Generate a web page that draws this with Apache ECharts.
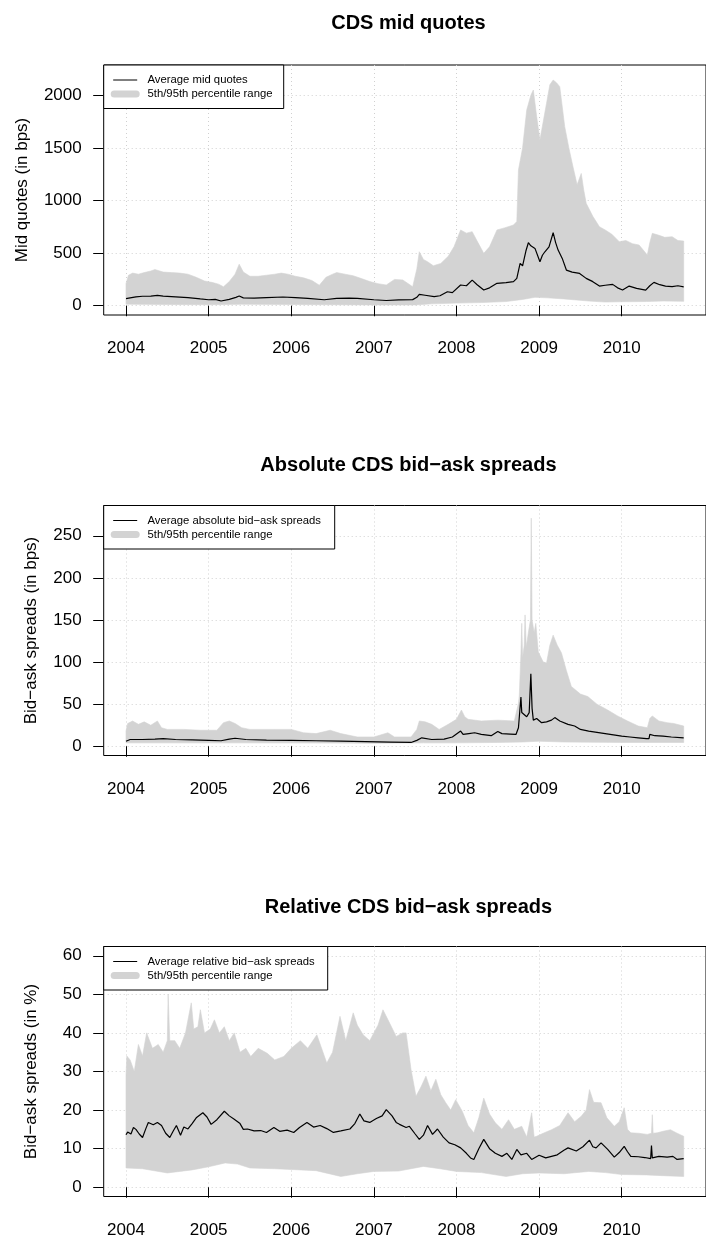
<!DOCTYPE html>
<html>
<head>
<meta charset="utf-8">
<script src="https://cdn.jsdelivr.net/npm/echarts@6/dist/echarts.min.js"></script>
<style>
  html, body { margin: 0; padding: 0; background: #ffffff; }
  #chart { width: 706px; height: 1239px; }
</style>
</head>
<body>
<div id="chart"></div>
<script>
// Tick positions shared by the three panels
const yearTicks = [2004, 2005, 2006, 2007, 2008, 2009, 2010];
const midTicks = [0, 500, 1000, 1500, 2000];
const absTicks = [0, 50, 100, 150, 200, 250];
const relTicks = [0, 10, 20, 30, 40, 50, 60];

// CDS mid quotes (bps): [year, value]
const midUpper = [[2004.00,210],[2004.03,290],[2004.08,310],[2004.15,300],[2004.22,315],[2004.30,330],[2004.35,344],[2004.45,320],[2004.55,315],[2004.65,310],[2004.75,300],[2004.85,270],[2004.95,235],[2005.05,220],[2005.12,205],[2005.18,180],[2005.25,230],[2005.32,300],[2005.37,395],[2005.42,320],[2005.50,280],[2005.60,280],[2005.70,290],[2005.80,300],[2005.88,310],[2005.96,300],[2006.05,280],[2006.15,265],[2006.25,240],[2006.34,195],[2006.42,270],[2006.50,300],[2006.55,315],[2006.65,300],[2006.75,285],[2006.85,258],[2006.95,230],[2007.05,210],[2007.15,197],[2007.25,250],[2007.35,245],[2007.47,181],[2007.52,350],[2007.55,513],[2007.60,440],[2007.65,418],[2007.72,380],[2007.81,402],[2007.90,470],[2007.97,561],[2008.05,720],[2008.12,690],[2008.19,704],[2008.26,600],[2008.33,498],[2008.40,560],[2008.49,720],[2008.58,740],[2008.69,767],[2008.73,800],[2008.75,1290],[2008.80,1500],[2008.85,1860],[2008.90,2000],[2008.93,2050],[2008.97,1800],[2009.01,1575],[2009.05,1750],[2009.09,1924],[2009.13,2100],[2009.17,2145],[2009.21,2120],[2009.25,2082],[2009.31,1702],[2009.36,1500],[2009.41,1321],[2009.46,1150],[2009.51,1257],[2009.54,1100],[2009.57,973],[2009.65,850],[2009.73,751],[2009.80,720],[2009.88,680],[2009.97,609],[2010.05,620],[2010.13,590],[2010.21,577],[2010.27,520],[2010.31,482],[2010.34,600],[2010.37,688],[2010.45,670],[2010.52,650],[2010.61,656],[2010.68,620],[2010.75,615]];
const midLower = [[2004.00,15],[2004.50,12],[2005.00,10],[2005.40,14],[2006.00,12],[2006.50,10],[2007.00,8],[2007.50,8],[2007.70,18],[2008.00,25],[2008.30,30],[2008.60,40],[2008.80,60],[2008.95,80],[2009.10,75],[2009.30,65],[2009.60,45],[2009.80,35],[2010.00,38],[2010.30,40],[2010.50,45],[2010.75,42]];
const midMean = [[2004.00,67],[2004.05,75],[2004.12,85],[2004.20,90],[2004.30,92],[2004.38,99],[2004.45,92],[2004.60,85],[2004.75,78],[2004.90,65],[2005.00,57],[2005.08,60],[2005.15,45],[2005.25,60],[2005.33,80],[2005.37,92],[2005.42,75],[2005.55,73],[2005.70,78],[2005.90,83],[2006.05,78],[2006.20,70],[2006.40,57],[2006.55,70],[2006.70,73],[2006.80,70],[2007.00,57],[2007.15,50],[2007.30,55],[2007.47,58],[2007.52,80],[2007.55,108],[2007.62,100],[2007.73,86],[2007.80,95],[2007.89,133],[2007.95,125],[2008.05,197],[2008.12,190],[2008.19,244],[2008.25,200],[2008.33,149],[2008.40,170],[2008.49,213],[2008.60,220],[2008.69,229],[2008.73,260],[2008.77,403],[2008.80,380],[2008.84,520],[2008.87,599],[2008.90,570],[2008.95,545],[2009.01,418],[2009.04,480],[2009.07,513],[2009.12,560],[2009.17,694],[2009.20,600],[2009.23,529],[2009.28,450],[2009.33,339],[2009.40,320],[2009.49,307],[2009.57,260],[2009.65,229],[2009.73,187],[2009.80,195],[2009.89,203],[2009.95,170],[2010.01,149],[2010.09,187],[2010.18,165],[2010.29,149],[2010.34,190],[2010.39,222],[2010.46,200],[2010.53,187],[2010.61,181],[2010.68,190],[2010.75,180]];

// Absolute bid-ask spreads (bps)
const absUpper = [[2004.00,18],[2004.02,27],[2004.08,30],[2004.15,26],[2004.22,29],[2004.30,25],[2004.38,30],[2004.43,22],[2004.50,20],[2004.70,20],[2004.90,19],[2005.10,19],[2005.18,28],[2005.25,30],[2005.32,27],[2005.40,22],[2005.50,20],[2005.80,20],[2006.00,20],[2006.15,16],[2006.30,15],[2006.47,19],[2006.60,15],[2006.80,11],[2007.00,11],[2007.17,16],[2007.25,11],[2007.45,11],[2007.52,20],[2007.55,30],[2007.62,29],[2007.70,26],[2007.79,20],[2007.90,26],[2008.00,32],[2008.06,43],[2008.10,35],[2008.14,32],[2008.30,30],[2008.50,31],[2008.70,30],[2008.75,51],[2008.76,60],[2008.78,110],[2008.79,146],[2008.80,105],[2008.82,120],[2008.83,156],[2008.845,118],[2008.87,135],[2008.895,150],[2008.905,271],[2008.915,150],[2008.94,135],[2008.96,146],[2008.99,112],[2009.05,100],[2009.09,99],[2009.13,120],[2009.17,132],[2009.22,120],[2009.27,111],[2009.33,90],[2009.39,71],[2009.50,62],[2009.59,59],[2009.70,50],[2009.83,43],[2009.95,36],[2010.07,30],[2010.20,24],[2010.31,22],[2010.34,33],[2010.37,36],[2010.45,30],[2010.55,28],[2010.63,27],[2010.75,24]];
const absLower = [[2004.00,4],[2005.00,4],[2006.00,4],[2007.00,3.5],[2007.60,4],[2008.00,4],[2008.50,4.5],[2008.80,5],[2009.00,6],[2009.30,5],[2010.00,4.5],[2010.75,4.5]];
const absMean = [[2004.00,6],[2004.05,8],[2004.20,8],[2004.35,8.5],[2004.45,9],[2004.60,8],[2004.80,7.5],[2005.00,7],[2005.15,6.5],[2005.25,8.5],[2005.32,9.5],[2005.45,8],[2005.70,7.2],[2006.00,7],[2006.30,6.5],[2006.60,6],[2006.90,5.5],[2007.20,5],[2007.45,4.5],[2007.52,7],[2007.58,10],[2007.70,8],[2007.85,8.5],[2007.95,11],[2008.05,18],[2008.08,14],[2008.15,15],[2008.22,16],[2008.30,14],[2008.42,12.5],[2008.50,17.5],[2008.55,15],[2008.65,14.5],[2008.72,14],[2008.75,22],[2008.78,58.5],[2008.79,40],[2008.81,41],[2008.85,35],[2008.88,40],[2008.90,86],[2008.915,45],[2008.93,31],[2008.97,33],[2009.03,28],[2009.09,29],[2009.15,31],[2009.19,34],[2009.25,30],[2009.35,26],[2009.43,24],[2009.50,20],[2009.60,18],[2009.70,16.5],[2009.80,15],[2009.90,13.5],[2010.00,12],[2010.10,11],[2010.20,10],[2010.30,9],[2010.33,9],[2010.34,14],[2010.40,12.5],[2010.50,12],[2010.60,11],[2010.75,10]];

// Relative bid-ask spreads (%)
const relUpper = [[2004.00,29],[2004.01,34],[2004.05,33],[2004.10,30],[2004.15,37],[2004.20,34],[2004.25,40],[2004.32,36],[2004.39,37],[2004.45,35],[2004.50,38],[2004.51,50],[2004.53,38],[2004.59,38],[2004.65,36],[2004.72,40],[2004.79,47.8],[2004.82,41],[2004.87,41.6],[2004.90,46],[2004.95,40],[2005.02,41],[2005.07,43.4],[2005.13,40],[2005.19,41.6],[2005.25,38],[2005.31,40],[2005.38,35],[2005.45,36],[2005.51,33.9],[2005.60,36],[2005.71,34.7],[2005.80,33],[2005.91,33.9],[2006.00,36],[2006.11,38],[2006.20,36],[2006.31,39.5],[2006.43,32.2],[2006.50,35],[2006.59,44.3],[2006.66,38],[2006.75,45.2],[2006.80,42],[2006.87,39.5],[2006.95,38],[2007.05,42],[2007.11,46],[2007.18,43],[2007.27,39.1],[2007.35,40],[2007.39,40],[2007.45,30.5],[2007.51,23.6],[2007.57,26],[2007.63,28.8],[2007.69,25],[2007.75,28],[2007.81,24],[2007.87,21.9],[2007.93,20],[2007.99,22.7],[2008.07,19.7],[2008.14,16],[2008.21,14.1],[2008.27,18],[2008.33,23.1],[2008.40,19],[2008.47,16.7],[2008.55,15],[2008.63,17.5],[2008.70,15],[2008.79,15.8],[2008.85,13],[2008.91,19.3],[2008.94,13],[2008.97,13.2],[2009.05,14],[2009.15,14.9],[2009.25,16],[2009.35,19.3],[2009.43,17],[2009.51,18.4],[2009.57,20],[2009.61,25.3],[2009.66,22],[2009.75,21.9],[2009.82,18],[2009.91,15.8],[2009.97,17],[2010.03,20.6],[2010.07,15],[2010.11,14.1],[2010.20,14],[2010.31,13.7],[2010.36,14],[2010.37,18.8],[2010.38,14],[2010.43,14.1],[2010.50,14.5],[2010.59,14.9],[2010.67,14],[2010.75,13.2]];
const relLower = [[2004.00,5],[2004.20,4.8],[2004.50,3.7],[2004.80,4.5],[2005.00,5.3],[2005.20,6.3],[2005.35,6],[2005.50,5],[2005.80,4.8],[2006.00,4.6],[2006.30,4.3],[2006.60,2.8],[2006.80,3.5],[2007.00,4.1],[2007.30,4.2],[2007.60,5.4],[2007.80,4.8],[2008.00,4.1],[2008.30,3.8],[2008.60,2.8],[2008.80,3.5],[2009.00,3.7],[2009.30,3.5],[2009.60,4.1],[2009.80,3.8],[2010.00,3.3],[2010.30,3.2],[2010.50,3.0],[2010.75,2.8]];
const relMean = [[2004.00,13.6],[2004.02,14.3],[2004.06,13.8],[2004.09,15.5],[2004.12,15],[2004.16,13.8],[2004.20,12.9],[2004.24,15.2],[2004.27,16.8],[2004.33,16.2],[2004.38,16.8],[2004.43,16],[2004.48,14],[2004.53,12.9],[2004.57,14.5],[2004.61,16],[2004.66,13.5],[2004.70,15.6],[2004.75,15.1],[2004.80,16.5],[2004.85,18],[2004.93,19.3],[2004.98,18.2],[2005.03,16.3],[2005.10,17.5],[2005.19,19.7],[2005.25,18.5],[2005.31,17.6],[2005.38,16.5],[2005.42,15],[2005.47,15.1],[2005.55,14.6],[2005.63,14.7],[2005.70,14.2],[2005.79,15.5],[2005.86,14.5],[2005.95,14.8],[2006.03,14.2],[2006.10,15.5],[2006.19,16.8],[2006.27,15.6],[2006.35,16],[2006.43,15.2],[2006.51,14.2],[2006.60,14.6],[2006.71,15.1],[2006.77,16.5],[2006.83,19],[2006.88,17.2],[2006.95,16.8],[2007.03,17.8],[2007.10,18.5],[2007.15,20.1],[2007.22,18.5],[2007.27,16.8],[2007.31,16.3],[2007.39,15.5],[2007.43,15.8],[2007.50,13.8],[2007.55,12.4],[2007.60,13.5],[2007.65,16],[2007.71,13.7],[2007.77,15.1],[2007.84,13],[2007.91,11.5],[2007.98,11],[2008.05,10.2],[2008.12,8.8],[2008.17,7.6],[2008.21,7.2],[2008.27,10],[2008.33,12.4],[2008.40,10],[2008.47,8.8],[2008.55,8],[2008.61,8.8],[2008.67,7.2],[2008.73,9.8],[2008.78,8.4],[2008.85,8.8],[2008.91,7.2],[2009.00,8.3],[2009.08,7.6],[2009.15,8],[2009.22,8.4],[2009.30,9.6],[2009.35,10.2],[2009.45,9.4],[2009.53,10.5],[2009.61,12.2],[2009.65,10.5],[2009.69,10.2],[2009.75,11.5],[2009.83,9.8],[2009.91,7.8],[2009.97,9],[2010.03,10.6],[2010.07,9.2],[2010.11,8],[2010.20,7.9],[2010.28,7.7],[2010.35,7.4],[2010.36,10.8],[2010.37,7.6],[2010.45,8.0],[2010.55,7.8],[2010.62,8.0],[2010.67,7.2],[2010.75,7.4]];

const FONT = 'Liberation Sans, Arial, Helvetica, sans-serif';
const BAND = '#d3d3d3';
const PLOT_LEFT = 103.7;
const PLOT_WIDTH = 609.5;
const PLOT_HEIGHT = 250;
const X_MIN = 2003.73, X_MAX = 2011.02;

const panels = [
  { title: 'CDS mid quotes', yName: 'Mid quotes (in bps)', meanName: 'Average mid quotes',
    upper: midUpper, lower: midLower, mean: midMean, ticks: midTicks,
    yMin: -88, yMax: 2288, top: 65, titleY: 23.8, yNameX: 22.8, legendW: 180 },
  { title: 'Absolute CDS bid\u2212ask spreads', yName: 'Bid\u2212ask spreads (in bps)', meanName: 'Average absolute bid\u2212ask spreads',
    upper: absUpper, lower: absLower, mean: absMean, ticks: absTicks,
    yMin: -11, yMax: 286, top: 505.5, titleY: 465.5, yNameX: 31, legendW: 231 },
  { title: 'Relative CDS bid\u2212ask spreads', yName: 'Bid\u2212ask spreads (in %)', meanName: 'Average relative bid\u2212ask spreads',
    upper: relUpper, lower: relLower, mean: relMean, ticks: relTicks,
    yMin: -2.4, yMax: 62.4, top: 946.5, titleY: 907.1, yNameX: 31, legendW: 224 }
];

const grids = [], xAxes = [], yAxes = [], series = [], graphics = [];
const dotted = { color: '#d0d0d0', width: 1, type: [1, 3] };

panels.forEach((p, i) => {
  grids.push({ left: PLOT_LEFT, top: p.top, width: PLOT_WIDTH, height: PLOT_HEIGHT,
    show: true, borderColor: '#000', borderWidth: 1, backgroundColor: 'transparent' });

  xAxes.push({ type: 'value', gridIndex: i, min: X_MIN, max: X_MAX,
    axisLine: { show: false },
    axisTick: { show: true, length: 10.5, customValues: yearTicks, lineStyle: { color: '#000', width: 1 } },
    axisLabel: { customValues: yearTicks, margin: 25, fontSize: 17, fontFamily: FONT, color: '#000',
      formatter: v => String(Math.round(v)) },
    splitLine: { show: true, lineStyle: dotted } });

  yAxes.push({ type: 'value', gridIndex: i, min: p.yMin, max: p.yMax,
    axisLine: { show: false },
    axisTick: { show: true, length: 10.5, customValues: p.ticks, lineStyle: { color: '#000', width: 1 } },
    axisLabel: { customValues: p.ticks, margin: 22, fontSize: 17, fontFamily: FONT, color: '#000',
      formatter: v => String(Math.round(v)) },
    splitLine: { show: true, lineStyle: dotted } });

  // 5th/95th percentile band as a closed polygon in data coordinates
  const upper = p.upper, lower = p.lower;
  series.push({ type: 'custom', name: '5th/95th percentile range', xAxisIndex: i, yAxisIndex: i,
    silent: true, clip: true, z: 2, data: [upper[0]],
    renderItem: (params, api) => {
      const pts = upper.map(d => api.coord(d))
        .concat(lower.slice().reverse().map(d => api.coord(d)));
      return { type: 'polygon', shape: { points: pts },
        style: { fill: BAND, stroke: BAND, lineWidth: 0.6 } };
    } });

  series.push({ type: 'line', name: p.meanName, xAxisIndex: i, yAxisIndex: i, z: 3,
    data: p.mean, showSymbol: false, symbol: 'none', silent: true,
    lineStyle: { color: '#000', width: 1.2 } });

  // Panel title
  graphics.push({ type: 'text', x: PLOT_LEFT + PLOT_WIDTH / 2, y: p.titleY, z: 10,
    style: { text: p.title, font: 'bold 20px ' + FONT, fill: '#000', align: 'center', verticalAlign: 'middle' } });

  // Y axis title
  graphics.push({ type: 'text', x: p.yNameX, y: p.top + PLOT_HEIGHT / 2, rotation: Math.PI / 2, z: 10,
    style: { text: p.yName, font: '17px ' + FONT, fill: '#000', align: 'center', verticalAlign: 'middle' } });

  // Legend box
  graphics.push({ type: 'group', x: PLOT_LEFT, y: p.top, z: 10, children: [
    { type: 'rect', z: 10, shape: { x: 0, y: 0, width: p.legendW, height: 43.5 },
      style: { fill: '#fff', stroke: '#000', lineWidth: 1 } },
    { type: 'line', z: 11, shape: { x1: 9.5, y1: 15, x2: 33.5, y2: 15 },
      style: { stroke: '#000', lineWidth: 1 } },
    { type: 'line', z: 11, shape: { x1: 10.5, y1: 29, x2: 32.5, y2: 29 },
      style: { stroke: BAND, lineWidth: 7, lineCap: 'round' } },
    { type: 'text', z: 11, x: 43.8, y: 15,
      style: { text: p.meanName, font: '11.3px ' + FONT, fill: '#000', align: 'left', verticalAlign: 'middle' } },
    { type: 'text', z: 11, x: 43.8, y: 29,
      style: { text: '5th/95th percentile range', font: '11.3px ' + FONT, fill: '#000', align: 'left', verticalAlign: 'middle' } }
  ] });
});

const chart = echarts.init(document.getElementById('chart'), null, { renderer: 'canvas' });
chart.setOption({
  animation: false,
  backgroundColor: '#ffffff',
  grid: grids,
  xAxis: xAxes,
  yAxis: yAxes,
  series: series,
  graphic: graphics
});
</script>
</body>
</html>
